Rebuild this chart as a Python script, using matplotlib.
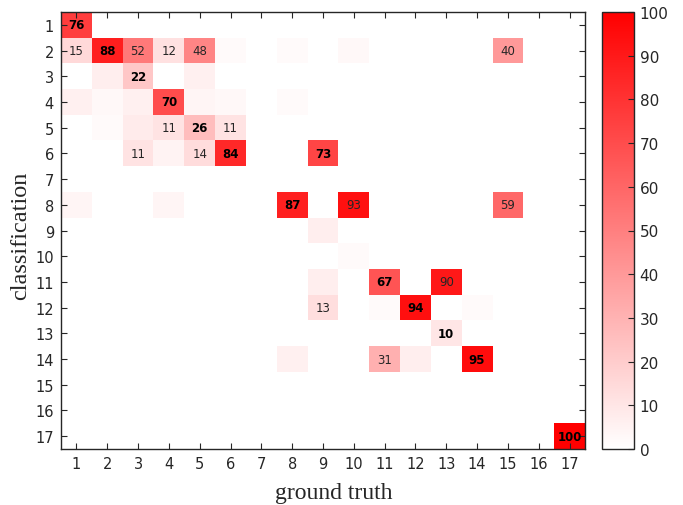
import numpy as np
import matplotlib
matplotlib.use('Agg')
from matplotlib import pyplot as plt
from matplotlib.colors import LinearSegmentedColormap

n_classes = 17
labels = [str(i) for i in range(1, n_classes + 1)]

# (classification row, ground truth col, percent)
cells = [
    (1, 1, 76),
    (2, 1, 15), (2, 2, 88), (2, 3, 52), (2, 4, 12), (2, 5, 48), (2, 6, 2), (2, 8, 2), (2, 10, 3), (2, 15, 40),
    (3, 2, 7), (3, 3, 22), (3, 5, 6),
    (4, 1, 6), (4, 2, 3), (4, 3, 6), (4, 4, 70), (4, 5, 4), (4, 6, 3), (4, 8, 2),
    (5, 2, 2), (5, 3, 8), (5, 4, 11), (5, 5, 26), (5, 6, 11),
    (6, 3, 11), (6, 4, 5), (6, 5, 14), (6, 6, 84), (6, 9, 73),
    (8, 1, 4), (8, 4, 4), (8, 8, 87), (8, 10, 93), (8, 15, 59),
    (9, 9, 7),
    (10, 10, 2),
    (11, 9, 7), (11, 11, 67), (11, 13, 90),
    (12, 9, 13), (12, 11, 2), (12, 12, 94), (12, 14, 2),
    (13, 13, 10),
    (14, 8, 6), (14, 11, 31), (14, 12, 7), (14, 14, 95),
    (17, 17, 100),
]
bold_cells = [(1, 1), (2, 2), (3, 3), (4, 4), (5, 5), (6, 6), (6, 9), (8, 8),
              (11, 11), (12, 12), (13, 13), (14, 14), (17, 17)]

M = np.zeros((n_classes, n_classes))
for r, c, v in cells:
    M[r - 1, c - 1] = v

cmap = LinearSegmentedColormap.from_list('white_red', ['#ffffff', '#ff0000'])
dark = '#262626'

fig = plt.figure(figsize=(6.83, 5.06), dpi=100)
ax = fig.add_axes([61 / 683, 1 - 450 / 506, 524 / 683, 437 / 506])
cax = fig.add_axes([602 / 683, 1 - 450 / 506, 32 / 683, 437 / 506])

im = ax.imshow(M, cmap=cmap, vmin=0, vmax=100, aspect='auto',
               extent=(0.5, n_classes + 0.5, n_classes + 0.5, 0.5),
               interpolation='nearest')

for r, c, v in cells:
    if v >= 10:
        if (r, c) in bold_cells:
            ax.text(c, r, str(v), ha='center', va='center', fontsize=8.5,
                    fontweight='bold', color='black', family='DejaVu Sans')
        else:
            ax.text(c, r, str(v), ha='center', va='center', fontsize=8.5,
                    color=dark, family='DejaVu Sans')

ticks = np.arange(1, n_classes + 1)
ax.set_xticks(ticks)
ax.set_xticklabels(labels)
ax.set_yticks(ticks)
ax.set_yticklabels(labels)
ax.tick_params(direction='in', length=4, width=0.8, color=dark, labelcolor=dark,
               labelsize=10.5, top=True, right=True, pad=5)
for s in ax.spines.values():
    s.set_color(dark)
    s.set_linewidth(1)

ax.set_xlabel('ground truth', family='Liberation Serif', fontsize=17, color=dark, labelpad=8)
ax.set_ylabel('classification', family='Liberation Serif', fontsize=17.5, color=dark, labelpad=5)
ax.xaxis.set_label_coords(0.521, -0.075)
ax.yaxis.set_label_coords(-0.057, 0.49)

cb = fig.colorbar(im, cax=cax, ticks=np.arange(0, 101, 10))
cb.ax.tick_params(direction='in', length=4, width=0.8, color=dark, labelcolor=dark,
                  labelsize=11, pad=4)
cb.outline.set_edgecolor(dark)
cb.outline.set_linewidth(1)

fig.savefig('out.png', dpi=100)
